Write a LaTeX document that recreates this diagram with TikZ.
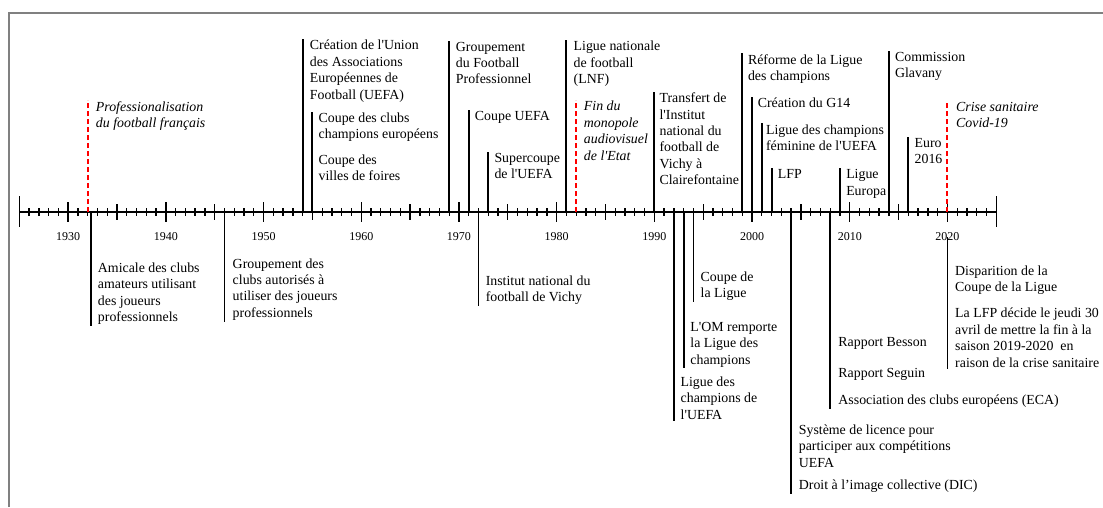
\documentclass[tikz,border=0pt]{standalone}
\usepackage{fontspec}
\setmainfont{Liberation Serif}[Ligatures=TeXOff]
\usepackage{tikz}
\usetikzlibrary{calc}

% Horizontal place of a year on the axis (one year is 9.77 units)
\newcommand{\yearx}[1]{19.3+9.77*(#1-1925)}

\tikzset{
    % The frame that is cut off at the right and at the bottom
    frame line/.style={draw, black!50, line width=1.3pt},
%
    % Time axis and its ticks
    axis line/.style={draw, line width=1.4pt},
    year tick/.style={draw, line width=1pt},
    year label/.style={font=\fontsize{9}{10}\selectfont, inner sep=0},
%
    % Events: a plain line and text, or a red dashed line and italics
    event line/.style={draw, line width=1.4pt},
    crisis line/.style={draw, red, line width=1.5pt, dash pattern=on 4pt off 2pt},
    event text/.style={
        anchor=north west, align=left, inner xsep=0, inner ysep=0.75pt,
        font=\fontsize{10.4}{12.3}\selectfont},
    crisis text/.style={event text, font=\fontsize{10.4}{12.3}\selectfont\itshape}}

\begin{document}
\begin{tikzpicture}[x=0.75pt, y=-0.75pt]

\useasboundingbox (0,0) rectangle (1103,507);

% Frame

\path [frame line] (9,507) -- (9,13) -- (1103,13);

% Time axis

\foreach \yr in {1925,...,2025}
    \coordinate (a\yr) at ({\yearx{\yr}},212);

\path [axis line] (a1925) -- (a2025);

\foreach \yr in {1926,...,2024} {
    \pgfmathsetmacro{\ticklen}{mod(\yr,10)==0 ? 10 : (mod(\yr,5)==0 ? 8 : 4)}
    \path [year tick] ($(a\yr)+(0,-\ticklen)$) -- ($(a\yr)+(0,\ticklen)$);
}
\foreach \yr in {1925,2025}
    \path [year tick] ($(a\yr)+(0,-16)$) -- ($(a\yr)+(0,15)$);

\foreach \yr in {1930,1940,...,2020}
    \node [year label] (lbl\yr) at ({\yearx{\yr}},237) {\yr};

% Events above the axis

\node [crisis text] (pro) at ({\yearx{1932}+8},100)
    {Professionalisation\\du football français};
\path [crisis line] (a1932) -- (a1932 |- pro.north);

\node [event text] (uefa) at ({\yearx{1954}+7},39)
    {Création de l'Union\\des Associations\\Européennes de\\Football (UEFA)};
\path [event line] (a1954) -- (a1954 |- uefa.north);

\node [event text] (coupes) at ({\yearx{1955}+6},111.7)
    {Coupe des clubs\\champions européens\\[6.7pt]Coupe des\\villes de foires};
\path [event line] (a1955) -- (a1955 |- coupes.north);

\node [event text] (gfp) at ({\yearx{1969}+6.5},40.7)
    {Groupement\\du Football\\Professionnel};
\path [event line] (a1969) -- (a1969 |- gfp.north);

\node [event text] (cuefa) at ({\yearx{1971}+6},110)
    {Coupe UEFA};
\path [event line] (a1971) -- (a1971 |- cuefa.north);

\node [event text] (super) at ({\yearx{1973}+6},151.7)
    {Supercoupe\\de l'UEFA};
\path [event line] (a1973) -- (a1973 |- super.north);

\node [event text] (lnf) at ({\yearx{1981}+7},40)
    {Ligue nationale\\de football\\(LNF)};
\path [event line] (a1981) -- (a1981 |- lnf.north);

\node [crisis text] (audio) at ({\yearx{1982}+7.5},100)
    {Fin du\\monopole\\audiovisuel\\de l'Etat};
\path [crisis line] (a1982) -- (a1982 |- audio.north);

\node [event text] (transfert) at ({\yearx{1990}+5},91.7)
    {Transfert de\\l'Institut\\national du\\football de\\Vichy à\\Clairefontaine};
\path [event line] (a1990) -- (a1990 |- transfert.north);

\node [event text] (reforme) at ({\yearx{1999}+5.5},53.3)
    {Réforme de la Ligue\\des champions};
\path [event line] (a1999) -- (a1999 |- reforme.north);

\node [event text] (gquatorze) at ({\yearx{2000}+5.5},96.7)
    {Création du G14};
\path [event line] (a2000) -- (a2000 |- gquatorze.north);

\node [event text] (feminine) at ({\yearx{2001}+4},123.3)
    {Ligue des champions\\féminine de l'UEFA};
\path [event line] (a2001) -- (a2001 |- feminine.north);

\node [event text] (lfp) at ({\yearx{2002}+6},168.3)
    {LFP};
\path [event line] (a2002) -- (a2002 |- lfp.north);

\node [event text] (europa) at ({\yearx{2009}+6},168.3)
    {Ligue\\Europa};
\path [event line] (a2009) -- (a2009 |- europa.north);

\node [event text] (glavany) at ({\yearx{2014}+6},50.7)
    {Commission\\Glavany};
\path [event line] (a2014) -- (a2014 |- glavany.north);

\node [event text] (euro) at ({\yearx{2016}+6},136.7)
    {Euro\\2016};
\path [event line] (a2016) -- (a2016 |- euro.north);

\node [crisis text] (covid) at ({\yearx{2020}+8.5},101)
    {Crise sanitaire\\Covid-19};
\path [crisis line] (a2020) -- (a2020 |- covid.north);

% Events below the axis

\coordinate (a1932b) at ($(a1932)+(3,0)$);
\node [event text] (amicale) at ({\yearx{1932}+10},261.7)
    {Amicale des clubs\\amateurs utilisant\\des joueurs\\professionnels};
\path [event line] (a1932b) -- (a1932b |- amicale.south);

\node [event text] (gcaj) at ({\yearx{1946}+8},257.3)
    {Groupement des\\clubs autorisés à\\utiliser des joueurs\\professionnels};
\path [event line] (a1946) -- (a1946 |- gcaj.south);

\node [event text] (institut) at ({\yearx{1972}+7},274.7)
    {Institut national du\\football de Vichy};
\path [event line] (a1972) -- (a1972 |- institut.south);

\node [event text] (ldc) at ({\yearx{1992}+6.5},375.7)
    {Ligue des\\champions de\\l'UEFA};
\path [event line] (a1992) -- (a1992 |- ldc.south);

\node [event text] (om) at ({\yearx{1993}+6.5},321)
    {L'OM remporte\\la Ligue des\\champions};
\path [event line] (a1993) -- (a1993 |- om.south);

\node [event text] (cdl) at ({\yearx{1994}+7},270.7)
    {Coupe de\\la Ligue};
\path [event line] (a1994) -- (a1994 |- cdl.south);

\node [event text] (licence) at ({\yearx{2004}+7.5},423.3)
    {Système de licence pour\\participer aux compétitions\\UEFA\\[4.7pt]Droit à l’image collective (DIC)};
\path [event line] (a2004) -- (a2004 |- licence.south);

\node [event text] (rapports) at ({\yearx{2008}+8},335.7)
    {Rapport Besson\\[11.4pt]Rapport Seguin\\[8.2pt]Association des clubs européens (ECA)};
\path [event line] (a2008) -- (a2008 |- rapports.south);

\node [event text] (fin) at ({\yearx{2020}+7.5},264.7)
    {Disparition de la\\Coupe de la Ligue\\[7.2pt]La LFP décide le jeudi 30\\avril de mettre la fin à la\\saison 2019-2020~ en\\raison de la crise sanitaire};
\path [event line] (lbl2020.center) -- (lbl2020.center |- fin.south);

\end{tikzpicture}
\end{document}
